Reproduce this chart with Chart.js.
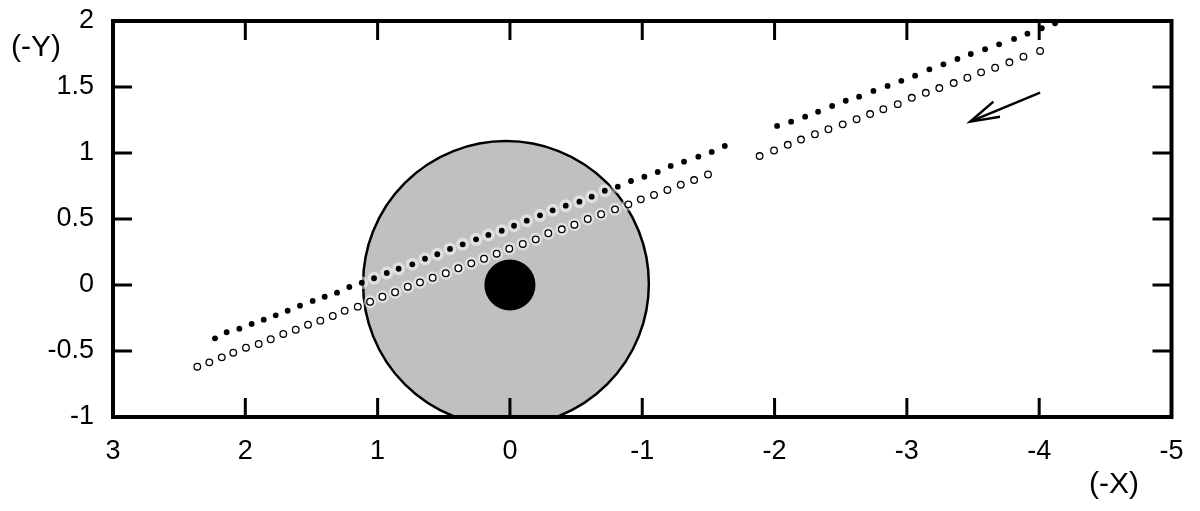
<!DOCTYPE html>
<html><head><meta charset="utf-8">
<script src="https://cdn.jsdelivr.net/npm/chart.js@4.4.1/dist/chart.umd.min.js"></script>
<style>html,body{margin:0;padding:0;background:#fff;}</style>
</head><body>
<canvas id="c" width="1200" height="511"></canvas>
<script>
const xTicks = [3, 2, 1, 0, -1, -2, -3, -4, -5];
const yTicks = [-1, -0.5, 0, 0.5, 1, 1.5, 2];
const xTitle = '(-X)';
const yTitle = '(-Y)';

const filledX = [2.229,2.141,2.045,1.952,1.861,1.770,1.680,1.587,1.491,1.400,1.307,1.214,1.120,1.027,0.931,0.841,0.738,0.642,0.549,0.453,0.357,0.256,0.163,0.062,-0.031,-0.127,-0.227,-0.323,-0.422,-0.525,-0.618,-0.717,-0.815,-0.915,-1.016,-1.117,-1.215,-1.316,-1.424,-1.525,-1.624,-2.019,-2.125,-2.231,-2.329,-2.435,-2.538,-2.639,-2.747,-2.854,-2.958,-3.062,-3.170,-3.276,-3.382,-3.483,-3.591,-3.697,-3.810,-3.911,-4.020,-4.120];
const filledY = [-0.404,-0.358,-0.331,-0.295,-0.263,-0.230,-0.195,-0.157,-0.121,-0.089,-0.058,-0.015,0.017,0.051,0.091,0.123,0.157,0.199,0.233,0.273,0.308,0.346,0.379,0.411,0.449,0.487,0.528,0.566,0.601,0.631,0.669,0.714,0.745,0.788,0.820,0.856,0.902,0.934,0.972,1.008,1.053,1.205,1.237,1.275,1.313,1.356,1.396,1.427,1.470,1.508,1.547,1.586,1.634,1.672,1.712,1.750,1.786,1.823,1.864,1.904,1.945,1.983];
const openX = [2.363,2.272,2.178,2.091,1.995,1.899,1.808,1.713,1.619,1.526,1.433,1.339,1.249,1.150,1.057,0.964,0.868,0.772,0.680,0.584,0.485,0.390,0.292,0.196,0.100,0.005,-0.097,-0.195,-0.290,-0.392,-0.487,-0.588,-0.689,-0.794,-0.895,-0.989,-1.089,-1.190,-1.291,-1.392,-1.497,-1.887,-1.996,-2.100,-2.200,-2.305,-2.407,-2.515,-2.620,-2.722,-2.822,-2.931,-3.037,-3.143,-3.245,-3.354,-3.457,-3.561,-3.667,-3.775,-3.881,-4.007];
const openY = [-0.619,-0.586,-0.548,-0.513,-0.475,-0.447,-0.411,-0.371,-0.339,-0.301,-0.270,-0.235,-0.195,-0.164,-0.127,-0.089,-0.055,-0.013,0.020,0.055,0.089,0.127,0.164,0.199,0.237,0.275,0.311,0.346,0.392,0.422,0.457,0.500,0.536,0.573,0.611,0.649,0.682,0.720,0.760,0.795,0.837,0.977,1.019,1.062,1.102,1.142,1.180,1.217,1.256,1.295,1.332,1.370,1.418,1.456,1.492,1.530,1.570,1.611,1.646,1.687,1.730,1.773];

const arrowShaftX = [-4.007, -3.478];
const arrowShaftY = [1.457, 1.237];
const arrowHeadX = [-3.654, -3.478, -3.704];
const arrowHeadY = [1.389, 1.237, 1.275];

const ringCenter = [0.03, 0.01];
const ringRadius = 1.08;
const coreCenter = [0, 0];
const coreRadius = 0.193;

const pts = (xs, ys) => xs.map((v, i) => ({x: v, y: ys[i]}));
const FONT = "'Liberation Sans', Arial, sans-serif";

const decor = {
  id: 'decor',
  beforeDatasetsDraw(chart) {
    const {ctx, chartArea: a, scales: {x, y}} = chart;
    const disc = (c, r) => {
      const cx = x.getPixelForValue(c[0]);
      const cy = y.getPixelForValue(c[1]);
      const rx = Math.abs(x.getPixelForValue(c[0] + r) - cx);
      const ry = Math.abs(y.getPixelForValue(c[1] + r) - cy);
      ctx.beginPath();
      ctx.ellipse(cx, cy, rx, ry, 0, 0, Math.PI * 2);
    };
    ctx.save();
    ctx.beginPath();
    ctx.rect(a.left, a.top, a.right - a.left, a.bottom - a.top);
    ctx.clip();
    disc(ringCenter, ringRadius);
    ctx.fillStyle = '#c0c0c0';
    ctx.fill();
    ctx.lineWidth = 2.5;
    ctx.strokeStyle = '#000';
    ctx.stroke();
    disc(coreCenter, coreRadius);
    ctx.fillStyle = '#000';
    ctx.fill();
    ctx.restore();
  },
  afterDraw(chart) {
    const {ctx, chartArea: a, scales: {x, y}} = chart;
    ctx.save();
    ctx.strokeStyle = '#000';
    ctx.lineWidth = 3;
    const TL = 19;
    x.ticks.forEach(t => {
      if (t.value === x.min || t.value === x.max) return;
      const px = x.getPixelForValue(t.value);
      ctx.beginPath();
      ctx.moveTo(px, a.bottom); ctx.lineTo(px, a.bottom - TL);
      ctx.moveTo(px, a.top); ctx.lineTo(px, a.top + TL);
      ctx.stroke();
    });
    y.ticks.forEach(t => {
      if (t.value === y.min || t.value === y.max) return;
      const py = y.getPixelForValue(t.value);
      ctx.beginPath();
      ctx.moveTo(a.left, py); ctx.lineTo(a.left + TL, py);
      ctx.moveTo(a.right, py); ctx.lineTo(a.right - TL, py);
      ctx.stroke();
    });
    ctx.lineWidth = 4;
    ctx.strokeRect(a.left, a.top, a.right - a.left, a.bottom - a.top);
    ctx.fillStyle = '#000';
    ctx.font = '30px ' + FONT;
    ctx.textAlign = 'left';
    ctx.textBaseline = 'alphabetic';
    ctx.fillText(yTitle, 11, 56);
    ctx.fillText(xTitle, 1089, 493);
    ctx.restore();
  }
};

const tickFont = {family: FONT, size: 27};

new Chart(document.getElementById('c'), {
  type: 'scatter',
  data: {
    datasets: [
      {data: pts(filledX, filledY), pointRadius: 6.5, pointBackgroundColor: 'rgba(255,255,255,0.5)', pointBorderWidth: 0, order: 10},
      {data: pts(openX, openY), pointRadius: 6.5, pointBackgroundColor: 'rgba(255,255,255,0.5)', pointBorderWidth: 0, order: 10},
      {data: pts(filledX, filledY), pointRadius: 2.9, pointBackgroundColor: '#000', pointBorderColor: '#000', pointBorderWidth: 0, order: 1},
      {data: pts(openX, openY), pointRadius: 3.3, pointBackgroundColor: '#fff', pointBorderColor: '#000', pointBorderWidth: 1.3, order: 1},
      {data: pts(arrowShaftX, arrowShaftY), showLine: true, borderColor: '#000', borderWidth: 2.4, pointRadius: 0, order: 1},
      {data: pts(arrowHeadX, arrowHeadY), showLine: true, borderColor: '#000', borderWidth: 2.4, pointRadius: 0, order: 1}
    ]
  },
  options: {
    responsive: false,
    animation: false,
    events: [],
    layout: {padding: {left: 0, top: 21, right: 28.5, bottom: 0}},
    plugins: {legend: {display: false}, tooltip: {enabled: false}},
    scales: {
      x: {
        type: 'linear', min: -5, max: 3, reverse: true,
        afterBuildTicks: s => { s.ticks = xTicks.map(v => ({value: v})); },
        afterFit: s => { s.height = 94; s.paddingLeft = 0; s.paddingRight = 0; },
        grid: {display: false, drawTicks: false},
        border: {display: false},
        ticks: {color: '#000', font: tickFont, padding: 18, autoSkip: false, maxRotation: 0, callback: v => String(v)}
      },
      y: {
        type: 'linear', min: -1, max: 2,
        afterBuildTicks: s => { s.ticks = yTicks.map(v => ({value: v})); },
        afterFit: s => { s.width = 113; s.paddingTop = 0; s.paddingBottom = 0; },
        grid: {display: false, drawTicks: false},
        border: {display: false},
        ticks: {color: '#000', font: tickFont, padding: 19, autoSkip: false, callback: v => String(v)}
      }
    }
  },
  plugins: [decor]
});
</script>
</body></html>
